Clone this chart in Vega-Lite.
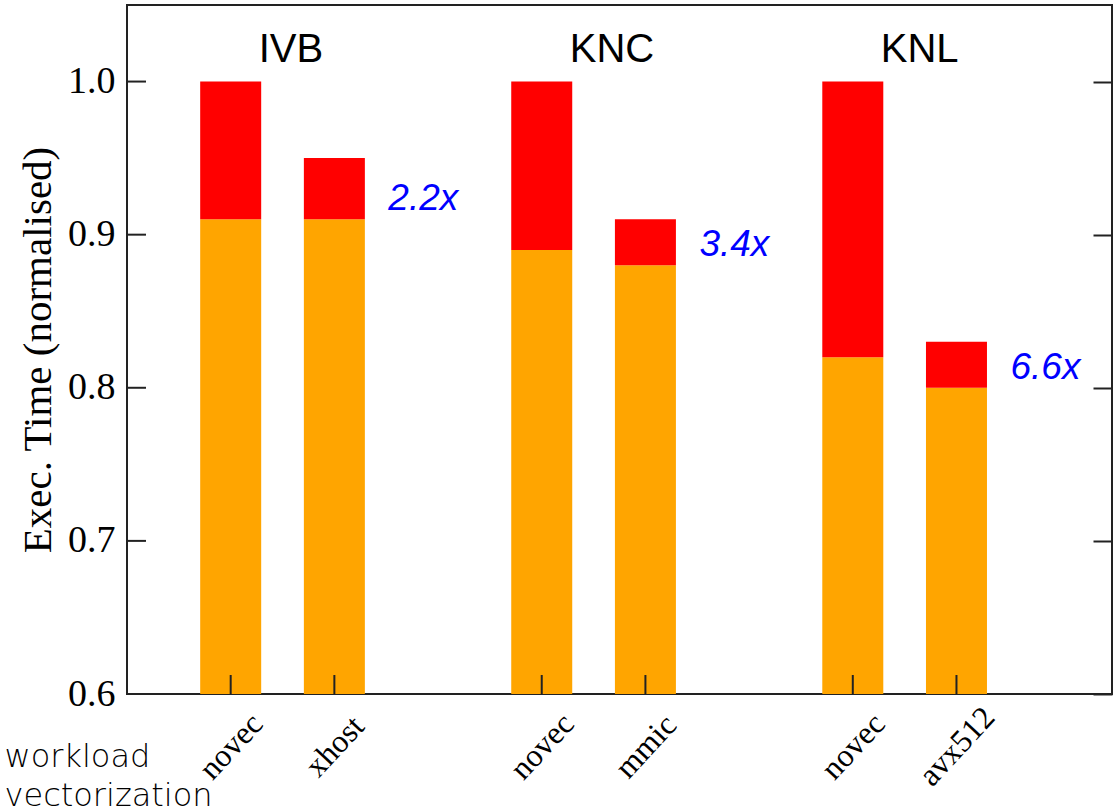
{
  "$schema": "https://vega.github.io/schema/vega-lite/v6.json",
  "width": 985,
  "height": 689,
  "autosize": {"type": "none"},
  "padding": {"left": 127, "top": 5, "right": 7, "bottom": 118},
  "background": "white",
  "config": {
    "view": {"stroke": "#222", "strokeWidth": 2},
    "axis": {
      "grid": false,
      "domain": false,
      "zindex": 1,
      "tickColor": "#222",
      "tickWidth": 2,
      "labelFont": "Liberation Serif",
      "labelColor": "#000",
      "titleFont": "Liberation Serif",
      "titleColor": "#000",
      "titleFontWeight": "normal"
    }
  },
  "data": {
    "values": [
      {"platform": "IVB", "variant": "novec", "slot": 1, "base": 0.91, "total": 1.0, "speedup": null},
      {"platform": "IVB", "variant": "xhost", "slot": 2, "base": 0.91, "total": 0.95, "speedup": "2.2x"},
      {"platform": "KNC", "variant": "novec", "slot": 4, "base": 0.89, "total": 1.0, "speedup": null},
      {"platform": "KNC", "variant": "mmic", "slot": 5, "base": 0.88, "total": 0.91, "speedup": "3.4x"},
      {"platform": "KNL", "variant": "novec", "slot": 7, "base": 0.82, "total": 1.0, "speedup": null},
      {"platform": "KNL", "variant": "avx512", "slot": 8, "base": 0.80, "total": 0.83, "speedup": "6.6x"}
    ]
  },
  "resolve": {"axis": {"y": "independent"}},
  "layer": [
    {
      "mark": {"type": "bar", "color": "#ffa500", "size": 61},
      "encoding": {
        "x": {
          "field": "slot",
          "type": "quantitative",
          "scale": {"domain": [0, 9.5], "nice": false, "zero": false, "padding": 0},
          "axis": {
            "values": [1, 2, 4, 5, 7, 8],
            "labelExpr": "['', 'novec', 'xhost', '', 'novec', 'mmic', '', 'novec', 'avx512'][datum.value]",
            "ticks": false,
            "labelAngle": -47,
            "labelAlign": "center",
            "labelBaseline": "middle",
            "labelFontSize": 32,
            "labelPadding": 52,
            "title": ["workload", "vectorization"],
            "titleFont": "DejaVu Sans",
            "titleFontWeight": 200,
            "titleFontSize": 32,
            "titleColor": "#000",
            "titleAlign": "left",
            "titleAnchor": null,
            "titleBaseline": "alphabetic",
            "titleX": -123,
            "titleY": 72,
            "titleLineHeight": 39
          }
        },
        "y": {
          "field": "base",
          "type": "quantitative",
          "scale": {"domain": [0.6, 1.05], "nice": false, "zero": false},
          "axis": {
            "orient": "left",
            "values": [0.6, 0.7, 0.8, 0.9, 1.0],
            "format": ".1f",
            "ticks": false,
            "labelFontSize": 38,
            "labelPadding": 12,
            "title": "Exec. Time (normalised)",
            "titleFontSize": 41,
            "titlePadding": 8
          }
        },
        "y2": {"datum": 0.6}
      }
    },
    {
      "mark": {"type": "bar", "color": "#ff0000", "size": 61},
      "encoding": {
        "x": {"field": "slot", "type": "quantitative"},
        "y": {
          "field": "total",
          "type": "quantitative",
          "axis": {
            "orient": "right",
            "values": [0.6, 0.7, 0.8, 0.9, 1.0],
            "tickSize": -19,
            "labels": false,
            "title": null
          }
        },
        "y2": {"field": "base"}
      }
    },
    {
      "mark": {"type": "rule", "color": "#222", "strokeWidth": 2},
      "encoding": {
        "x": {"field": "slot", "type": "quantitative"},
        "y": {"datum": 0.6, "axis": null},
        "y2": {"datum": 0.6124}
      }
    },
    {
      "data": {"values": [{"tick": 0.6}, {"tick": 0.7}, {"tick": 0.8}, {"tick": 0.9}, {"tick": 1.0}]},
      "mark": {"type": "rule", "color": "#222", "strokeWidth": 2},
      "encoding": {
        "x": {"datum": 0},
        "x2": {"datum": 0.183},
        "y": {"field": "tick", "type": "quantitative", "axis": null}
      }
    },
    {
      "transform": [{"filter": "datum.variant == 'novec'"}],
      "mark": {
        "type": "text",
        "align": "left",
        "baseline": "alphabetic",
        "dx": 28,
        "font": "Liberation Sans",
        "fontSize": 40,
        "color": "#000"
      },
      "encoding": {
        "x": {"field": "slot", "type": "quantitative"},
        "y": {"datum": 1.013, "axis": null},
        "text": {"field": "platform"}
      }
    },
    {
      "transform": [{"filter": "datum.speedup != null"}],
      "mark": {
        "type": "text",
        "align": "left",
        "baseline": "middle",
        "dx": 54,
        "dy": -20,
        "font": "Liberation Sans",
        "fontStyle": "italic",
        "fontSize": 37,
        "color": "#0000ff"
      },
      "encoding": {
        "x": {"field": "slot", "type": "quantitative"},
        "y": {"field": "base", "type": "quantitative", "axis": null},
        "text": {"field": "speedup"}
      }
    }
  ]
}
